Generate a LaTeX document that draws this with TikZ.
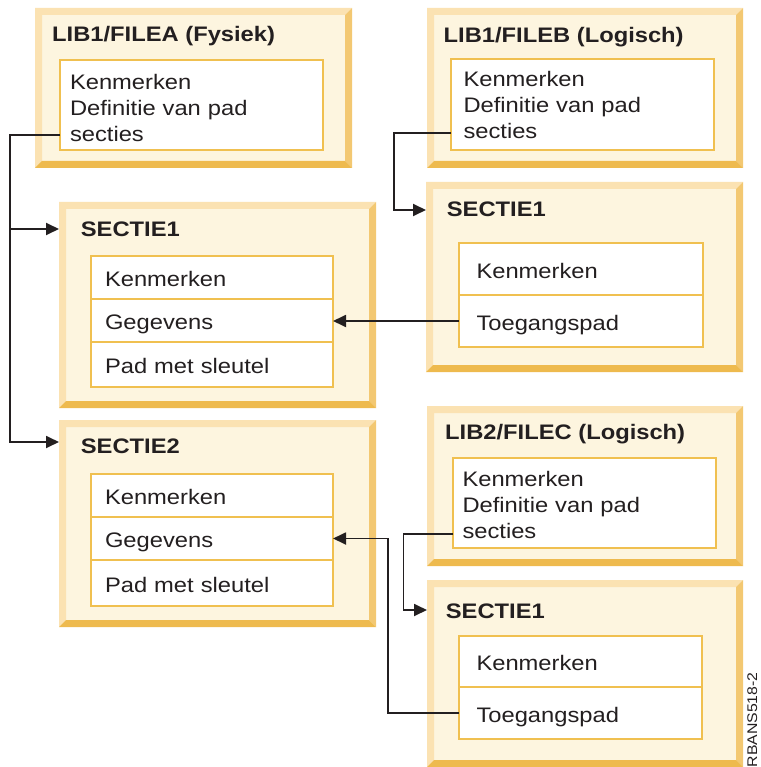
\documentclass[tikz,border=0pt]{standalone}
\usepackage{fontspec}
\setmainfont{Liberation Sans}[FakeStretch=1.13]
\usetikzlibrary{arrows.meta,calc}

\definecolor{ink}{HTML}{231F20}
\definecolor{face}{HTML}{FDF5DF}
\definecolor{bevlight}{HTML}{FBE2B2}
\definecolor{bevright}{HTML}{F3C872}
\definecolor{bevbottom}{HTML}{EEBA4E}
\definecolor{edge}{HTML}{F0C050}

\tikzset{
  % raised panel with a bevelled frame
  panel/.style 2 args={anchor=north west, inner sep=0pt, outer sep=0pt,
    minimum width=#1, minimum height=#2, fill=face,
    path picture={
      \fill[bevlight] (path picture bounding box.north west)
        -- (path picture bounding box.north east)
        -- ($(path picture bounding box.north east)+(-7,7)$)
        -- ($(path picture bounding box.north west)+(7,7)$)
        -- ($(path picture bounding box.south west)+(7,-7)$)
        -- (path picture bounding box.south west) -- cycle;
      \fill[bevright] (path picture bounding box.north east)
        -- (path picture bounding box.south east)
        -- ($(path picture bounding box.south east)+(-7,-7)$)
        -- ($(path picture bounding box.north east)+(-7,7)$) -- cycle;
      \fill[bevbottom] (path picture bounding box.south west)
        -- (path picture bounding box.south east)
        -- ($(path picture bounding box.south east)+(-7,-7)$)
        -- ($(path picture bounding box.south west)+(7,-7)$) -- cycle;
    }},
  title/.style={anchor=base west, inner sep=0pt,
    font=\fontsize{21}{26}\selectfont\bfseries, text=ink},
  memo/.style 2 args={anchor=north west, draw=edge, line width=2pt, fill=white,
    outer sep=0pt, inner ysep=0pt, align=left, text width=#1, minimum height=#2,
    font=\fontsize{21}{26}\selectfont, text=ink},
  cell/.style 2 args={anchor=north west, draw=edge, line width=2pt, fill=white,
    outer sep=0pt, inner ysep=0pt, align=left, text width=#1, minimum height=#2,
    text height=18pt, text depth=0pt,
    font=\fontsize{21}{26}\selectfont, text=ink},
  divider/.style={draw=edge, line width=2pt},
  link/.style={draw=ink, line width=1.8pt},
  feed/.style={link, -{Triangle[length=13pt,width=12pt]}},
}

\begin{document}
\begin{tikzpicture}[x=1pt,y=-1pt]
\useasboundingbox (0,0) rectangle (760,767);

% panels
\node[panel={317pt}{160pt}] (fa)  at (35,8) {};
\node[panel={316pt}{160pt}] (fb)  at (427,8) {};
\node[panel={317pt}{206pt}] (sa1) at (59,202) {};
\node[panel={317pt}{190pt}] (sb1) at (426,182) {};
\node[panel={317pt}{207pt}] (sa2) at (59,420) {};
\node[panel={316pt}{160pt}] (fc)  at (427,406) {};
\node[panel={316pt}{187pt}] (sc1) at (427,580) {};

% panel titles
\node[title] (fa-t)  at (52,42)      {LIB1/FILEA (Fysiek)};
\node[title] (fb-t)  at (443.5,43)   {LIB1/FILEB (Logisch)};
\node[title] (fc-t)  at (445,439.5)  {LIB2/FILEC (Logisch)};
\node[title] (sa1-t) at (80.7,236.7) {SECTIE1};
\node[title] (sb1-t) at (446.7,216)  {SECTIE1};
\node[title] (sa2-t) at (80.7,453.3) {SECTIE2};
\node[title] (sc1-t) at (445.7,618.3){SECTIE1};

% file descriptions (the strut on the first line sets the text block lower)
\node[memo={243pt}{90pt}, inner xsep=10pt] (fa-m) at (60,60)
  {\rule{0pt}{22pt}Kenmerken\\Definitie van pad\\secties};
\node[memo={238pt}{91pt}, inner xsep=12.5pt] (fb-m) at (451,59)
  {Kenmerken\\Definitie van pad\\secties};
\node[memo={244pt}{90pt}, inner xsep=9.5pt] (fc-m) at (453,458)
  {\rule{0pt}{20pt}Kenmerken\\Definitie van pad\\secties};

% member tables
\node[cell={214pt}{43pt}, inner xsep=14pt] (sa1-k) at (91,256) {Kenmerken};
\node[cell={214pt}{43pt}, inner xsep=14pt] (sa1-g) at (sa1-k.south west) {Gegevens};
\node[cell={214pt}{45pt}, inner xsep=14pt] (sa1-p) at (sa1-g.south west) {Pad met sleutel};

\node[cell={214pt}{43pt}, inner xsep=14pt] (sa2-k) at (91,474) {Kenmerken};
\node[cell={214pt}{43pt}, inner xsep=14pt] (sa2-g) at (sa2-k.south west) {Gegevens};
\node[cell={214pt}{46pt}, inner xsep=14pt] (sa2-p) at (sa2-g.south west) {Pad met sleutel};

\node[cell={209pt}{52pt}, inner xsep=17.5pt] (sb1-k) at (459,243) {Kenmerken};
\node[cell={209pt}{52pt}, inner xsep=17.5pt] (sb1-a) at (sb1-k.south west) {Toegangspad};

\node[cell={208pt}{51pt}, inner xsep=17.5pt] (sc1-k) at (459,636) {Kenmerken};
\node[cell={208pt}{52pt}, inner xsep=17.5pt] (sc1-a) at (sc1-k.south west) {Toegangspad};

% row dividers, drawn again over the fill of the row below
\foreach \c in {sa1-k,sa1-g,sa2-k,sa2-g,sb1-k,sc1-k}
  \draw[divider] (\c.south west) -- (\c.south east);

% connectors
\coordinate (fa-out) at ($(fa-m.south west)+(0,-15)$);
\coordinate (sa1-in) at ($(sa1.north west)+(0,27)$);
\coordinate (sa2-in) at ($(sa2.north west)+(0,22)$);
\coordinate (trunk)  at ($(fa-out)+(-50,0)$);
\draw[feed] (fa-out) -- (trunk) |- (sa2-in);
\draw[feed] (trunk |- sa1-in) -- (sa1-in);

\coordinate (fb-out) at ($(fb-m.south west)+(0,-17)$);
\coordinate (sb1-in) at ($(sb1.north west)+(0,28)$);
\draw[feed] (fb-out) -- ++(-57,0) |- (sb1-in);

\draw[feed] (sb1-a.west) -- (sb1-a.west -| sa1-g.east);

\coordinate (fc-out) at ($(fc-m.south west)+(0,-14)$);
\coordinate (sc1-in) at ($(sc1.north west)+(0,30)$);
\draw[feed] (fc-out) -- ++(-49.5,0) |- (sc1-in);

\draw[feed] (sc1-a.west) -| ($(sa2-g.east)+(55,0)$) -- (sa2-g.east);

% figure reference
\node[anchor=base west, rotate=90, inner sep=0pt,
  font=\fontsize{14}{16}\selectfont, text=ink] (ref) at (757,767.5) {RBANS518-2};
\end{tikzpicture}
\end{document}
